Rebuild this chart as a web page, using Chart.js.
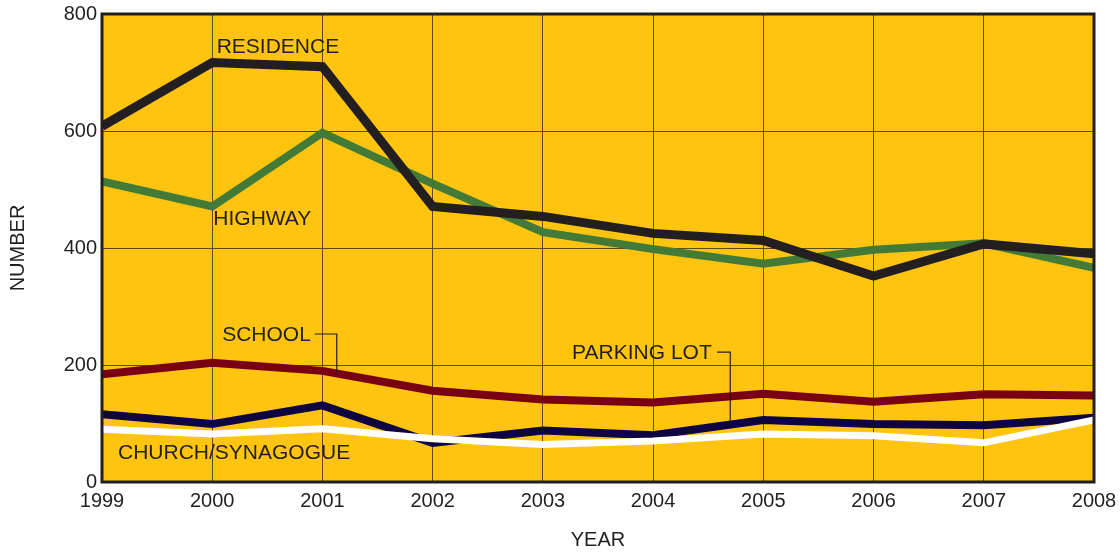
<!DOCTYPE html>
<html>
<head>
<meta charset="utf-8">
<script src="https://cdn.jsdelivr.net/npm/chart.js@4.4.1/dist/chart.umd.min.js"></script>
<style>
  html, body { margin: 0; padding: 0; background: #ffffff; }
  #wrap { width: 1120px; height: 552px; position: relative; }
</style>
</head>
<body>
<div id="wrap"><canvas id="c" width="1120" height="552"></canvas></div>
<script>
const years = [1999, 2000, 2001, 2002, 2003, 2004, 2005, 2006, 2007, 2008];
const residence = [608, 717, 710, 471, 454, 425, 413, 352, 407, 390];
const highway   = [514, 471, 597, 510, 427, 398, 373, 397, 408, 366];
const school    = [184, 204, 190, 156, 141, 136, 151, 137, 150, 148];
const parkingLot = [116, 99, 131, 67, 88, 80, 106, 99, 97, 110];
const church    = [90, 82, 91, 74, 64, 70, 82, 79, 67, 106];
const yTicks = [0, 200, 400, 600, 800];

const INK = '#231f20';
const FONT = "'Liberation Sans', Arial, sans-serif";

function pts(vals) { return years.map((y, i) => ({ x: y, y: vals[i] })); }

const labelItems = [
  { text: 'RESIDENCE', x: 2000.04, y: 744, align: 'left' },
  { text: 'HIGHWAY', x: 2000.01, y: 449, align: 'left' },
  { text: 'SCHOOL', x: 2000.09, y: 251, align: 'left' },
  { text: 'PARKING LOT', x: 2003.265, y: 221, align: 'left' },
  { text: 'CHURCH/SYNAGOGUE', x: 1999.145, y: 50, align: 'left' }
];
const leaders = [
  [[2000.93, 253], [2001.13, 253], [2001.13, 186]],
  [[2004.58, 222], [2004.70, 222], [2004.70, 104]]
];

const overlay = {
  id: 'overlay',
  beforeDraw(chart) {
    const a = chart.chartArea, ctx = chart.ctx;
    ctx.save();
    ctx.fillStyle = '#fec40f';
    ctx.fillRect(a.left, a.top, a.right - a.left, a.bottom - a.top);
    ctx.restore();
  },
  afterDatasetsDraw(chart) {
    const a = chart.chartArea, ctx = chart.ctx;
    const xs = chart.scales.x, ys = chart.scales.y;
    ctx.save();
    ctx.fillStyle = INK;
    ctx.font = '21px ' + FONT;
    ctx.textBaseline = 'middle';
    labelItems.forEach(l => {
      ctx.textAlign = l.align;
      ctx.fillText(l.text, xs.getPixelForValue(l.x), ys.getPixelForValue(l.y));
    });
    ctx.strokeStyle = INK;
    ctx.lineWidth = 1.2;
    leaders.forEach(seg => {
      ctx.beginPath();
      seg.forEach((p, i) => {
        const px = xs.getPixelForValue(p[0]), py = ys.getPixelForValue(p[1]);
        if (i === 0) ctx.moveTo(px, py); else ctx.lineTo(px, py);
      });
      ctx.stroke();
    });
    ctx.lineWidth = 3;
    ctx.strokeStyle = INK;
    ctx.strokeRect(a.left, a.top, a.right - a.left, a.bottom - a.top);
    ctx.restore();
  }
};

const common = { fill: false, pointRadius: 0, tension: 0, borderJoinStyle: 'miter', borderCapStyle: 'butt' };

new Chart(document.getElementById('c'), {
  type: 'line',
  data: {
    datasets: [
      Object.assign({ label: 'CHURCH/SYNAGOGUE', data: pts(church), borderColor: '#ffffff', borderWidth: 7 }, common),
      Object.assign({ label: 'PARKING LOT', data: pts(parkingLot), borderColor: '#0e0442', borderWidth: 8 }, common),
      Object.assign({ label: 'SCHOOL', data: pts(school), borderColor: '#780012', borderWidth: 8 }, common),
      Object.assign({ label: 'RESIDENCE', data: pts(residence), borderColor: INK, borderWidth: 9 }, common),
      Object.assign({ label: 'HIGHWAY', data: pts(highway), borderColor: '#437a37', borderWidth: 8 }, common)
    ]
  },
  options: {
    responsive: false,
    animation: false,
    events: [],
    layout: { padding: { top: 14, right: 26, left: 0, bottom: 0 } },
    plugins: { legend: { display: false }, tooltip: { enabled: false } },
    scales: {
      x: {
        type: 'linear',
        min: years[0], max: years[years.length - 1],
        afterBuildTicks(s) { s.ticks = years.map(v => ({ value: v })); },
        afterFit(s) { s.height = 70; s.paddingLeft = 0; s.paddingRight = 0; },
        ticks: { color: INK, font: { family: FONT, size: 20 }, padding: 7, maxRotation: 0, callback: v => String(v) },
        grid: { color: '#5c4c14', lineWidth: 1, drawTicks: false },
        border: { display: false },
        title: { display: true, text: 'YEAR', color: INK, font: { family: FONT, size: 20 }, padding: { top: 8, bottom: 0 } }
      },
      y: {
        min: 0, max: 800,
        afterBuildTicks(s) { s.ticks = yTicks.map(v => ({ value: v })); },
        afterFit(s) { s.width = 102; s.paddingTop = 0; s.paddingBottom = 0; },
        ticks: { color: INK, font: { family: FONT, size: 20 }, padding: 5 },
        grid: { color: '#5c4c14', lineWidth: 1, drawTicks: false },
        border: { display: false },
        title: { display: true, text: 'NUMBER', color: INK, font: { family: FONT, size: 20 }, padding: { top: 6, bottom: 0 } }
      }
    }
  },
  plugins: [overlay]
});
</script>
</body>
</html>
